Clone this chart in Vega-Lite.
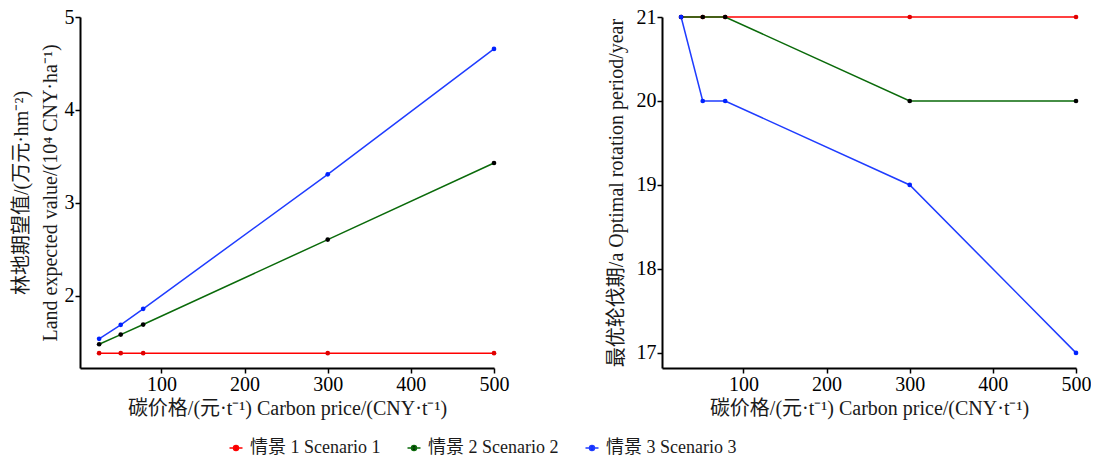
{
  "$schema": "https://vega.github.io/schema/vega-lite/v6.json",
  "background": "white",
  "padding": {"left": 11, "top": 7, "right": 0, "bottom": 0},
  "bounds": "flush",
  "spacing": 168,
  "config": {
    "font": "Liberation Serif, Noto Sans CJK SC",
    "view": {"stroke": null},
    "axis": {
      "domainColor": "black", "domainWidth": 2, "tickColor": "black", "tickSize": 5, "tickWidth": 1.5,
      "grid": false, "labelFont": "Liberation Serif", "labelFontSize": 20, "labelColor": "black",
      "labelPadding": 1, "labelFlush": false, "titleFont": "Liberation Serif, Noto Sans CJK SC", "titleFontSize": 20,
      "titleFontWeight": "normal", "titleColor": "#1a1a1a", "titlePadding": 4
    }
  },
  "data": {"values": [
    {"scenario": "情景 1 Scenario 1", "price": 25, "value": 1.38, "period": 21},
    {"scenario": "情景 1 Scenario 1", "price": 51, "value": 1.38, "period": 21},
    {"scenario": "情景 1 Scenario 1", "price": 78, "value": 1.38, "period": 21},
    {"scenario": "情景 1 Scenario 1", "price": 300, "value": 1.38, "period": 21},
    {"scenario": "情景 1 Scenario 1", "price": 500, "value": 1.38, "period": 21},
    {"scenario": "情景 2 Scenario 2", "price": 25, "value": 1.476, "period": 21},
    {"scenario": "情景 2 Scenario 2", "price": 51, "value": 1.58, "period": 21},
    {"scenario": "情景 2 Scenario 2", "price": 78, "value": 1.688, "period": 21},
    {"scenario": "情景 2 Scenario 2", "price": 300, "value": 2.603, "period": 20},
    {"scenario": "情景 2 Scenario 2", "price": 500, "value": 3.428, "period": 20},
    {"scenario": "情景 3 Scenario 3", "price": 25, "value": 1.534, "period": 21},
    {"scenario": "情景 3 Scenario 3", "price": 51, "value": 1.685, "period": 20},
    {"scenario": "情景 3 Scenario 3", "price": 78, "value": 1.857, "period": 20},
    {"scenario": "情景 3 Scenario 3", "price": 300, "value": 3.306, "period": 19},
    {"scenario": "情景 3 Scenario 3", "price": 500, "value": 4.656, "period": 17}
  ]},
  "hconcat": [
    {
      "width": 414, "height": 351,
      "encoding": {
        "x": {"field": "price", "type": "quantitative", "scale": {"domain": [2, 500], "nice": false, "zero": false},
              "axis": {"values": [100, 200, 300, 400, 500], "title": "碳价格/(元·t⁻¹) Carbon price/(CNY·t⁻¹)"}},
        "y": {"field": "value", "type": "quantitative", "scale": {"domain": [1.22, 5], "nice": false, "zero": false},
              "axis": {"values": [2, 3, 4, 5], "title": ["林地期望值/(万元·hm⁻²)", "Land expected value/(10⁴ CNY·ha⁻¹)"], "titleLineHeight": 29}}
      },
      "layer": [
        {"mark": {"type": "line", "strokeWidth": 1.5},
         "encoding": {"stroke": {"field": "scenario", "type": "nominal",
            "scale": {"domain": ["情景 1 Scenario 1", "情景 2 Scenario 2", "情景 3 Scenario 3"], "range": ["#ff0000", "#0a6a0a", "#1f3cff"]},
            "legend": {"orient": "none", "legendX": 147, "legendY": 422, "direction": "horizontal", "title": null,
              "symbolType": "M-1,0L1,0M-0.38,0A0.38,0.38,0,1,0,0.38,0A0.38,0.38,0,1,0,-0.38,0",
              "symbolSize": 169, "symbolStrokeWidth": 1.5, "labelFontSize": 18, "labelFont": "Liberation Serif, Noto Sans CJK SC",
              "labelColor": "#1a1a1a", "labelOffset": 5, "columnPadding": 23, "labelLimit": 300,
              "encode": {"symbols": {"update": {"fill": {"scale": "fill", "field": "value"}, "stroke": {"scale": "stroke", "field": "value"}}}}}}}},
        {"mark": {"type": "point", "filled": true, "size": 22, "opacity": 1},
         "encoding": {"fill": {"field": "scenario", "type": "nominal",
            "scale": {"domain": ["情景 1 Scenario 1", "情景 2 Scenario 2", "情景 3 Scenario 3"], "range": ["#e00000", "#000000", "#0022ff"]},
            "legend": null}}}
      ]
    },
    {
      "width": 414, "height": 351,
      "encoding": {
        "x": {"field": "price", "type": "quantitative", "scale": {"domain": [2, 500], "nice": false, "zero": false},
              "axis": {"values": [100, 200, 300, 400, 500], "title": "碳价格/(元·t⁻¹) Carbon price/(CNY·t⁻¹)"}},
        "y": {"field": "period", "type": "quantitative", "scale": {"domain": [16.82, 21], "nice": false, "zero": false},
              "axis": {"values": [17, 18, 19, 20, 21], "title": "最优轮伐期/a Optimal rotation period/year", "titlePadding": 10}}
      },
      "layer": [
        {"mark": {"type": "line", "strokeWidth": 1.5},
         "encoding": {"stroke": {"field": "scenario", "type": "nominal"}}},
        {"mark": {"type": "point", "filled": true, "size": 22, "opacity": 1},
         "encoding": {"fill": {"field": "scenario", "type": "nominal", "legend": null}}}
      ]
    }
  ]
}
